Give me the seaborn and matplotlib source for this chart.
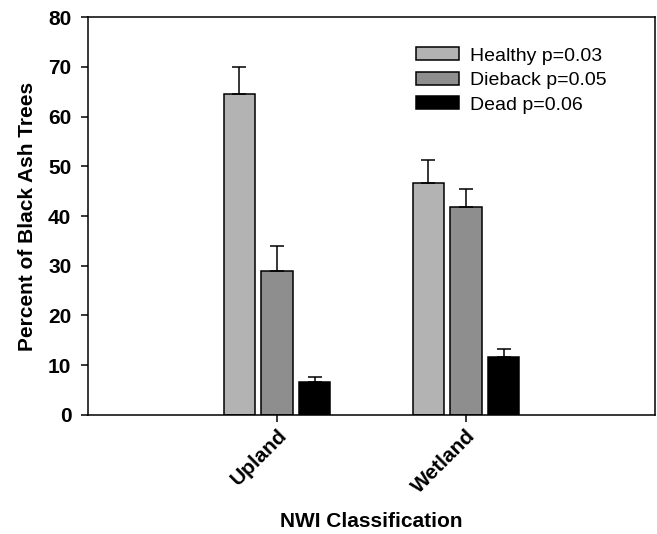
import matplotlib
matplotlib.use("Agg")
import matplotlib.pyplot as plt
import seaborn as sns
import pandas as pd
import numpy as np
from matplotlib.patches import Patch

categories = ["Upland", "Wetland"]
conditions = ["Healthy", "Dieback", "Dead"]
legend_labels = ["Healthy p=0.03", "Dieback p=0.05", "Dead p=0.06"]
healthy = [64.5, 46.6]
dieback = [28.9, 41.8]
dead = [6.7, 11.7]
healthy_err = [5.5, 4.6]
dieback_err = [5.0, 3.6]
dead_err = [0.9, 1.6]
colors = ["#b3b3b3", "#8e8e8e", "#000000"]

sns.set_theme(style="white")
plt.rcParams["font.family"] = ["Liberation Sans", "DejaVu Sans"]
plt.rcParams["text.color"] = "black"
plt.rcParams["axes.labelcolor"] = "black"
plt.rcParams["xtick.color"] = "black"
plt.rcParams["ytick.color"] = "black"

rows = []
for cond, vals, errs in zip(conditions, [healthy, dieback, dead], [healthy_err, dieback_err, dead_err]):
    for cat, v, e in zip(categories, vals, errs):
        rows.append({"NWI": cat, "Condition": cond, "Percent": v, "Err": e})
df = pd.DataFrame(rows)

fig = plt.figure(figsize=(6.57, 5.34), dpi=100)
ax = fig.add_axes([0.134, 0.223, 0.863, 0.745])

sns.barplot(data=df, x="NWI", y="Percent", hue="Condition", order=categories,
            hue_order=conditions, palette=colors, width=0.6, gap=0.175,
            edgecolor="black", linewidth=1.1, errorbar=None, legend=False, ax=ax)

bars = [p for p in ax.patches]
idx = 0
for cond in conditions:
    sub = df[df["Condition"] == cond].set_index("NWI").loc[categories]
    for cat in categories:
        p = bars[idx]
        idx += 1
        xc = p.get_x() + p.get_width() / 2
        h = p.get_height()
        e = sub.loc[cat, "Err"]
        ax.errorbar(xc, h, yerr=[[0], [e]], fmt="none", ecolor="black",
                    elinewidth=1.1, capsize=4.7, capthick=1.1, zorder=1)

ax.set_xlim(-1, 2)
ax.set_ylim(0, 80)
ax.set_yticks(np.arange(0, 81, 10))
for s in ax.spines.values():
    s.set_linewidth(1.1)
    s.set_color("black")
ax.tick_params(axis="both", which="major", direction="out", length=5, width=1.1,
               color="black", labelsize=15, bottom=True, left=True)
ax.tick_params(axis="y", pad=7)
ax.tick_params(axis="x", pad=3)
for lab in ax.get_yticklabels():
    lab.set_fontweight("bold")
ax.set_xticks(range(len(categories)))
ax.set_xticklabels(categories, rotation=45, ha="right", rotation_mode="anchor",
                   fontweight="bold", fontsize=15)

ax.set_ylabel("Percent of Black Ash Trees", fontsize=15, fontweight="bold", labelpad=8)
ax.set_xlabel("NWI Classification", fontsize=15, fontweight="bold")
ax.xaxis.set_label_coords(0.5, -0.245)

handles = [Patch(facecolor=c, edgecolor="black", linewidth=1.1) for c in colors]
ax.legend(handles, legend_labels, loc="upper right", bbox_to_anchor=(0.946, 0.968),
          frameon=False, fontsize=14, handlelength=2.2, handleheight=0.65,
          labelspacing=0.37, handletextpad=0.6)

fig.savefig("out.png", dpi=100)
